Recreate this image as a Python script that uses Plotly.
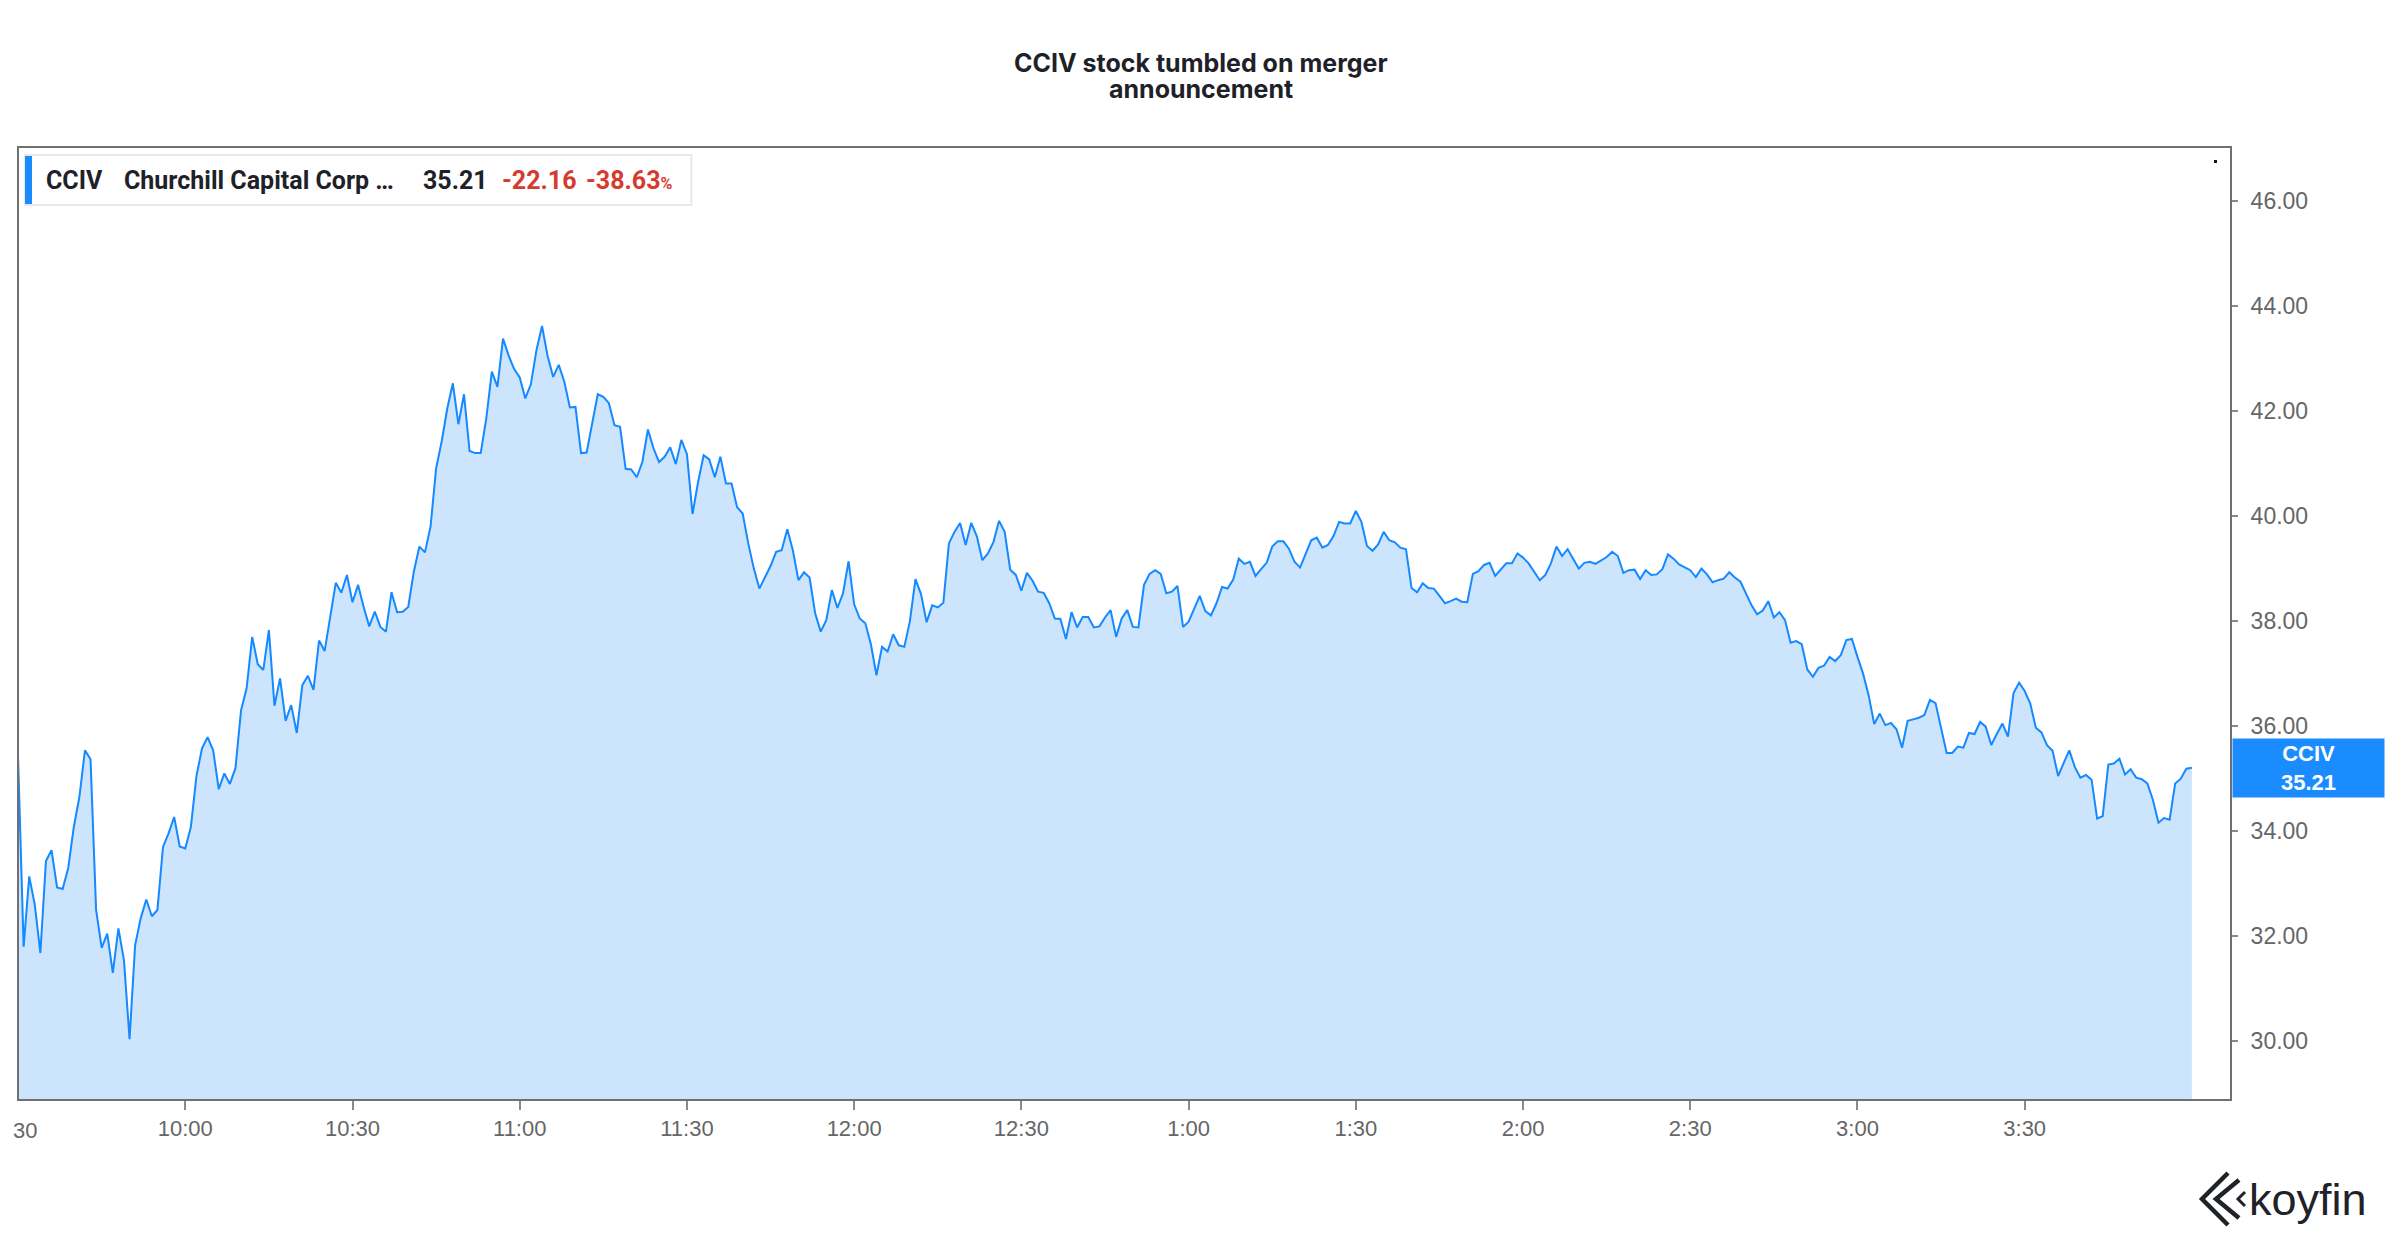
import pandas as pd
import plotly.graph_objects as go

# ---------------- data ----------------
session_date = "2021-02-23"
session_start = "09:30"

prices_0930 = [35.4, 31.8, 33.14, 32.6, 31.68, 33.43, 33.64, 32.93, 32.9, 33.3,
               34.08, 34.65, 35.54, 35.37, 32.5, 31.78, 32.05, 31.3, 32.15, 31.54,
               30.04, 31.83, 32.34, 32.7, 32.38, 32.5, 33.7, 33.96, 34.27, 33.71,
               33.67, 34.08, 35.05, 35.58, 35.79, 35.54, 34.8, 35.1, 34.9, 35.2,
               36.3, 36.72, 37.7, 37.18, 37.07, 37.83, 36.39, 36.91, 36.1, 36.4,
               35.87, 36.78, 36.96, 36.69, 37.63, 37.43, 38.08, 38.73, 38.54, 38.88]
prices_1030 = [38.36, 38.69, 38.27, 37.9, 38.18, 37.89, 37.8, 38.55, 38.17, 38.18,
               38.27, 38.94, 39.42, 39.31, 39.8, 40.91, 41.42, 42.05, 42.53, 41.75,
               42.32, 41.24, 41.2, 41.2, 41.86, 42.75, 42.46, 43.38, 43.06, 42.8,
               42.64, 42.24, 42.51, 43.16, 43.62, 43.05, 42.65, 42.88, 42.56, 42.07,
               42.08, 41.2, 41.21, 41.8, 42.32, 42.27, 42.15, 41.73, 41.7, 40.9,
               40.89, 40.74, 41.03, 41.65, 41.29, 41.03, 41.13, 41.31, 40.99, 41.45]
prices_1130 = [41.18, 40.04, 40.65, 41.16, 41.08, 40.74, 41.13, 40.62, 40.62, 40.17,
               40.05, 39.48, 39.0, 38.62, 38.83, 39.05, 39.32, 39.35, 39.75, 39.35,
               38.78, 38.93, 38.83, 38.15, 37.8, 38.02, 38.59, 38.25, 38.53, 39.14,
               38.32, 38.05, 37.96, 37.56, 36.97, 37.51, 37.42, 37.75, 37.54, 37.51,
               38.0, 38.8, 38.51, 37.98, 38.3, 38.26, 38.35, 39.48, 39.7, 39.87,
               39.45, 39.87, 39.62, 39.16, 39.29, 39.51, 39.91, 39.7, 38.98, 38.88]
prices_1230 = [38.58, 38.92, 38.77, 38.56, 38.54, 38.34, 38.05, 38.04, 37.66, 38.17,
               37.88, 38.08, 38.08, 37.88, 37.9, 38.07, 38.21, 37.7, 38.05, 38.21,
               37.89, 37.88, 38.69, 38.9, 38.97, 38.9, 38.53, 38.56, 38.67, 37.89,
               37.99, 38.24, 38.48, 38.19, 38.11, 38.34, 38.65, 38.62, 38.79, 39.19,
               39.09, 39.13, 38.86, 38.99, 39.11, 39.42, 39.52, 39.52, 39.38, 39.13,
               39.02, 39.28, 39.54, 39.59, 39.4, 39.45, 39.62, 39.89, 39.86, 39.86]
prices_1330 = [40.1, 39.89, 39.43, 39.34, 39.46, 39.7, 39.54, 39.5, 39.4, 39.37,
               38.63, 38.55, 38.72, 38.63, 38.62, 38.48, 38.34, 38.38, 38.43, 38.37,
               38.36, 38.9, 38.95, 39.07, 39.11, 38.86, 38.98, 39.1, 39.1, 39.29,
               39.21, 39.1, 38.94, 38.78, 38.88, 39.1, 39.42, 39.24, 39.37, 39.19,
               39.0, 39.11, 39.13, 39.09, 39.16, 39.22, 39.32, 39.24, 38.92, 38.97,
               38.98, 38.8, 38.97, 38.88, 38.89, 38.99, 39.27, 39.19, 39.08, 39.03]
prices_1430 = [38.97, 38.84, 39.0, 38.89, 38.74, 38.78, 38.81, 38.93, 38.83, 38.75,
               38.53, 38.3, 38.13, 38.2, 38.38, 38.07, 38.17, 38.02, 37.59, 37.62,
               37.56, 37.08, 36.94, 37.11, 37.15, 37.32, 37.24, 37.35, 37.64, 37.66,
               37.32, 37.0, 36.59, 36.04, 36.24, 36.02, 36.06, 35.94, 35.59, 36.1,
               36.13, 36.16, 36.21, 36.5, 36.44, 35.99, 35.49, 35.49, 35.61, 35.59,
               35.87, 35.85, 36.08, 35.99, 35.64, 35.85, 36.05, 35.8, 36.63, 36.83]
prices_1530 = [36.67, 36.43, 35.97, 35.88, 35.64, 35.53, 35.05, 35.3, 35.54, 35.22,
               35.02, 35.07, 34.98, 34.24, 34.29, 35.27, 35.29, 35.38, 35.08, 35.18,
               35.02, 34.99, 34.91, 34.6, 34.16, 34.25, 34.22, 34.91, 35.0, 35.19,
               35.21]

ticker = "CCIV"
company = "Churchill Capital Corp \u2026"
change_abs = "-22.16"
change_pct = "-38.63"

tick_times = ["10:00", "10:30", "11:00", "11:30", "12:00", "12:30",
              "13:00", "13:30", "14:00", "14:30", "15:00", "15:30"]
tick_labels = ["10:00", "10:30", "11:00", "11:30", "12:00", "12:30",
               "1:00", "1:30", "2:00", "2:30", "3:00", "3:30"]
y_ticks = [30, 32, 34, 36, 38, 40, 42, 44, 46]

title_lines = ["CCIV stock tumbled on merger", "announcement"]

# ---------------- build ----------------
prices = (prices_0930 + prices_1030 + prices_1130 + prices_1230 +
          prices_1330 + prices_1430 + prices_1530)
times = pd.date_range(f"{session_date} {session_start}", periods=len(prices), freq="1min")
last_price = prices[-1]

# page has an 8px body margin; figure is sized to fit the 2400x1240 window
BODY = 8
W, H = 2400 - 2 * BODY, 1240 - 2 * BODY
# plot area in page pixels
PL, PR, PT, PB = 17, 2230, 148, 1099


def fx(px):
    return (px - PL) / (PR - PL)


def fy(py):
    return (PB - py) / (PB - PT)


LINE = "#1589ff"
FILL = "#cce5fd"
DARK = "#1e2228"
RED = "#d63b30"
GREY_TXT = "#666666"
AXIS = "#707070"

fig = go.Figure()
fig.add_trace(go.Scatter(
    x=times, y=prices, mode="lines",
    line=dict(color=LINE, width=2),
    fill="tozeroy", fillcolor=FILL,
    hoverinfo="skip", showlegend=False,
))

x_range = [pd.Timestamp(f"{session_date} 09:30:10"), pd.Timestamp(f"{session_date} 16:06:50")]

fig.update_layout(
    width=W, height=H,
    margin=dict(l=PL - BODY, r=(BODY + W) - PR, t=PT - BODY, b=(BODY + H) - PB, pad=0),
    paper_bgcolor="white", plot_bgcolor="white",
    showlegend=False,
    xaxis=dict(
        type="date", range=x_range,
        tickvals=[pd.Timestamp(f"{session_date} {t}") for t in tick_times],
        ticktext=tick_labels,
        showgrid=False, zeroline=False,
        showline=True, linecolor=AXIS, linewidth=2, mirror=True,
        ticks="outside", ticklen=9, tickwidth=1.5, tickcolor="#8a8a8a",
        tickfont=dict(family="Liberation Sans, Arial", size=22, color=GREY_TXT),
    ),
    yaxis=dict(
        side="right", range=[28.9, 47.01],
        tickvals=y_ticks, tickformat=".2f",
        showgrid=False, zeroline=False,
        showline=True, linecolor=AXIS, linewidth=2, mirror=True,
        ticks="outside", ticklen=6, tickwidth=2, tickcolor="#8a8a8a",
        ticklabelstandoff=8,
        tickfont=dict(family="Liberation Sans, Arial", size=23, color=GREY_TXT),
    ),
)

ann = []
# title (two lines placed individually for tight spacing)
for i, line in enumerate(title_lines):
    ann.append(dict(text=f"<b>{line}</b>", xref="paper", yref="paper",
                    x=fx(1200), y=fy(63 + i * 26), xanchor="center", yanchor="middle",
                    showarrow=False, font=dict(family="Inter, Roboto", size=25, color=DARK)))

# clipped first tick label
ann.append(dict(text="30", xref="paper", yref="paper", x=fx(37), y=0, yshift=-17,
                xanchor="right", yanchor="top", showarrow=False,
                font=dict(family="Liberation Sans, Arial", size=22, color=GREY_TXT)))

# legend chip texts
LG_Y = fy(180)
lf = "Roboto, Liberation Sans"
ann += [
    dict(text=f"<b>{ticker}</b>", x=fx(42), y=LG_Y, font=dict(family=lf, size=25, color=DARK)),
    dict(text=f"<b>{company}</b>", x=fx(120), y=LG_Y, font=dict(family=lf, size=25, color=DARK)),
    dict(text=f"<b>{last_price:.2f}</b>", x=fx(419), y=LG_Y, font=dict(family=lf, size=25, color=DARK)),
    dict(text=f"<b>{change_abs}</b>", x=fx(498), y=LG_Y, font=dict(family=lf, size=25, color=RED)),
    dict(text=f"<b>{change_pct}</b><span style='font-size:16px'><b>%</b></span>", x=fx(583), y=LG_Y,
         font=dict(family=lf, size=25, color=RED)),
]
for a in ann[-5:]:
    a.update(xref="paper", yref="paper", xanchor="left", yanchor="middle", showarrow=False)

# last value label on the price axis
ann.append(dict(text=f"<b>{ticker}</b><br><b>{last_price:.2f}</b>", xref="paper", yref="y",
                x=1, y=last_price, xshift=2, xanchor="left", yanchor="middle",
                showarrow=False, bgcolor="#1a8cff", borderpad=0, width=151, height=58,
                align="center", font=dict(family="Liberation Sans, Arial", size=22, color="white")))

# koyfin logo word
ann.append(dict(text="koyfin", xref="paper", yref="paper", x=fx(2247), y=fy(1199),
                xanchor="left", yanchor="middle", showarrow=False,
                font=dict(family="Liberation Sans, Arial", size=45, color="#1f2329")))

fig.update_layout(annotations=ann)

shapes = [
    # legend chip
    dict(type="rect", xref="paper", yref="paper", x0=fx(23), x1=fx(690), y0=fy(205), y1=fy(155),
         line=dict(color="#e7e8ea", width=2), fillcolor="white", layer="above"),
    dict(type="rect", xref="paper", yref="paper", x0=fx(23), x1=fx(30), y0=fy(204), y1=fy(156),
         line=dict(width=0), fillcolor="#1a8cff", layer="above"),
    # tiny dot near top-right of the plot
    dict(type="rect", xref="paper", yref="paper", x0=fx(2214), x1=fx(2217), y0=fy(163), y1=fy(160),
         line=dict(width=0), fillcolor="#111111"),
]


# koyfin logo mark (nested chevrons)
def chevron(xt, yt, xm, ym, xb, yb, w):
    return dict(type="path", xref="paper", yref="paper",
                path=f"M {fx(xt)} {fy(yt)} L {fx(xm)} {fy(ym)} L {fx(xb)} {fy(yb)}",
                line=dict(color="#1f2329", width=w))


shapes += [
    chevron(2228, 1173, 2202, 1199, 2228, 1225, 4.5),
    chevron(2239, 1180, 2216, 1199, 2239, 1218, 4.5),
    chevron(2245, 1192, 2238, 1199, 2245, 1206, 3),
]
fig.update_layout(shapes=shapes)

fig.write_html("out.html", include_plotlyjs=True, full_html=True, config={"displayModeBar": False})
